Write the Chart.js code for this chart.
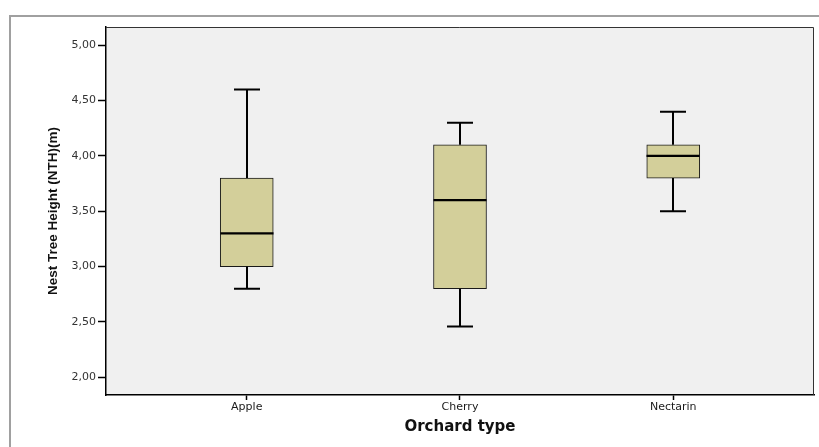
<!DOCTYPE html>
<html>
<head>
<meta charset="utf-8">
<title>Nest Tree Height by Orchard type</title>
<script src="https://cdn.jsdelivr.net/npm/chart.js@4/dist/chart.umd.min.js"></script>
<style>
  html, body { margin: 0; padding: 0; background: #ffffff; }
  #wrap { width: 819px; height: 447px; }
</style>
</head>
<body>
<div id="wrap"><canvas id="chart" width="819" height="447"></canvas></div>
<script>
// Orchard types and their box-plot summaries (Nest Tree Height, m)
const categories  = ['Apple', 'Cherry', 'Nectarin'];
const whiskerLow  = [2.80, 2.46, 3.50];
const quartile1   = [3.00, 2.80, 3.80];
const medians     = [3.30, 3.60, 4.00];
const quartile3   = [3.80, 4.10, 4.10];
const whiskerHigh = [4.60, 4.30, 4.40];
const yTickValues = [2.00, 2.50, 3.00, 3.50, 4.00, 4.50, 5.00];

const formatComma = v => v.toFixed(2).replace('.', ',');

// Boxes are floating bars from Q1 to Q3, placed at category positions 1..n
const boxData = categories.map((c, i) => ({ x: i + 1, y: [quartile1[i], quartile3[i]] }));

// Grey outer frame and plot-area background
const framePlugin = {
  id: 'frame',
  beforeDraw(chart) {
    const { ctx, chartArea: a } = chart;
    ctx.save();
    ctx.fillStyle = '#ffffff';
    ctx.fillRect(0, 0, chart.width, chart.height);
    ctx.strokeStyle = '#a0a0a0';
    ctx.lineWidth = 2;
    ctx.beginPath();
    ctx.moveTo(10, chart.height);
    ctx.lineTo(10, 16);
    ctx.lineTo(chart.width, 16);
    ctx.stroke();
    ctx.fillStyle = '#f0f0f0';
    ctx.fillRect(a.left, a.top, a.right - a.left, a.bottom - a.top);
    ctx.restore();
  },
  afterDraw(chart) {
    const { ctx, chartArea: a } = chart;
    ctx.save();
    ctx.strokeStyle = '#333333';
    ctx.lineWidth = 1;
    ctx.beginPath();
    ctx.moveTo(a.left, a.top + 0.5);
    ctx.lineTo(a.right - 0.5, a.top + 0.5);
    ctx.lineTo(a.right - 0.5, a.bottom);
    ctx.stroke();
    ctx.restore();
  }
};

// Whiskers, caps and median lines, positioned through the chart scales
const whiskerPlugin = {
  id: 'whiskers',
  afterDatasetsDraw(chart, args, opts) {
    const { ctx, scales: { x, y } } = chart;
    const bars = chart.getDatasetMeta(0).data;
    ctx.save();
    ctx.strokeStyle = '#000000';
    ctx.lineCap = 'butt';
    categories.forEach((c, i) => {
      const cx = Math.round(x.getPixelForValue(i + 1));
      const half = bars[i] ? bars[i].width / 2 : 26;
      const yLow = y.getPixelForValue(whiskerLow[i]);
      const yQ1 = y.getPixelForValue(quartile1[i]);
      const yMed = y.getPixelForValue(medians[i]);
      const yQ3 = y.getPixelForValue(quartile3[i]);
      const yHigh = y.getPixelForValue(whiskerHigh[i]);
      ctx.lineWidth = 2;
      ctx.beginPath();
      ctx.moveTo(cx, yQ3); ctx.lineTo(cx, yHigh);
      ctx.moveTo(cx - opts.cap, yHigh); ctx.lineTo(cx + opts.cap, yHigh);
      ctx.moveTo(cx, yQ1); ctx.lineTo(cx, yLow);
      ctx.moveTo(cx - opts.cap, yLow); ctx.lineTo(cx + opts.cap, yLow);
      ctx.stroke();
      ctx.lineWidth = 2.2;
      ctx.beginPath();
      ctx.moveTo(cx - half, yMed); ctx.lineTo(cx + half, yMed);
      ctx.stroke();
    });
    ctx.restore();
  }
};

new Chart(document.getElementById('chart'), {
  type: 'bar',
  data: {
    datasets: [{
      data: boxData,
      backgroundColor: '#d3cf9a',
      borderColor: '#1a1a1a',
      borderWidth: 1,
      borderSkipped: false,
      barThickness: 53
    }]
  },
  plugins: [framePlugin, whiskerPlugin],
  options: {
    responsive: false,
    animation: false,
    layout: { padding: { left: 0, top: 27, right: 5, bottom: 0 } },
    plugins: {
      legend: { display: false },
      tooltip: { enabled: false },
      whiskers: { cap: 13 }
    },
    scales: {
      x: {
        type: 'linear',
        min: 0.34,
        max: 3.66,
        offset: false,
        afterBuildTicks: s => { s.ticks = categories.map((c, i) => ({ value: i + 1 })); },
        afterFit: s => { s.height = 52; },
        ticks: {
          callback: v => categories[Math.round(v) - 1] || '',
          color: '#1a1a1a',
          font: { family: 'DejaVu Sans', size: 11 },
          padding: 1,
          maxRotation: 0,
          autoSkip: false
        },
        grid: { offset: false, drawOnChartArea: false, drawTicks: true, tickLength: 5, tickColor: '#000000', tickWidth: 1.5 },
        border: { display: true, color: '#000000', width: 1.5 },
        title: {
          display: true,
          text: 'Orchard type',
          color: '#111111',
          font: { family: 'DejaVu Sans', size: 15, weight: 'bold' },
          padding: { top: 0, bottom: 10.5 }
        }
      },
      y: {
        type: 'linear',
        min: 1.84,
        max: 5.165,
        afterBuildTicks: s => { s.ticks = yTickValues.map(v => ({ value: v })); },
        afterFit: s => { s.width = 106; },
        ticks: {
          callback: v => formatComma(v),
          color: '#333333',
          font: { family: 'DejaVu Sans', size: 11 },
          padding: 2
        },
        grid: { drawOnChartArea: false, drawTicks: true, tickLength: 8, tickColor: '#000000', tickWidth: 1.5 },
        border: { display: true, color: '#000000', width: 1.5 },
        title: {
          display: true,
          text: 'Nest Tree Height (NTH)(m)',
          color: '#111111',
          font: { family: 'Liberation Sans', size: 13.5, weight: 'bold' },
          padding: { top: 45.5, bottom: 0 }
        }
      }
    }
  }
});
</script>
</body>
</html>
